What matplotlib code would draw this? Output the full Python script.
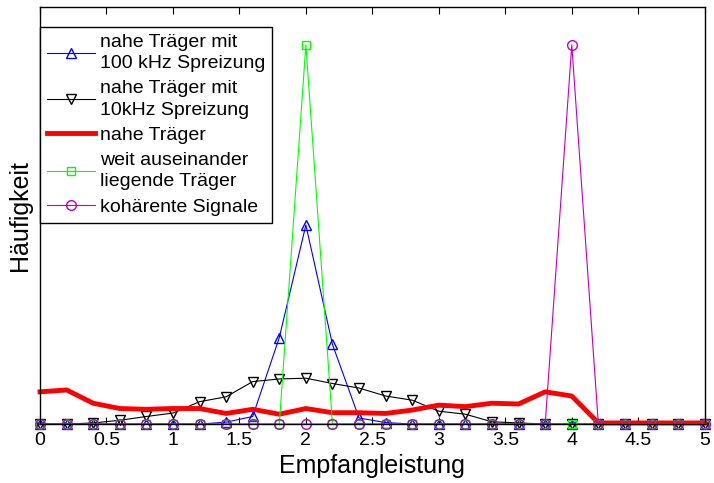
import numpy as np
import matplotlib
matplotlib.use('Agg')
import matplotlib.pyplot as plt

plt.rcParams['font.family'] = ['Liberation Sans', 'DejaVu Sans']

# x: Empfangleistung, Schritt 0.2
x = np.array([0.0, 0.2, 0.4, 0.6, 0.8, 1.0, 1.2, 1.4, 1.6, 1.8,
              2.0, 2.2, 2.4, 2.6, 2.8, 3.0, 3.2, 3.4, 3.6, 3.8,
              4.0, 4.2, 4.4, 4.6, 4.8, 5.0])

spread100 = np.array([0, 0, 0, 0, 0, 0, 0, 0.5, 2.0, 22.8,
                      52.5, 21.0, 1.6, 0.4, 0, 0, 0, 0, 0, 0,
                      0, 0, 0, 0, 0, 0])
spread10 = np.array([0, 0, 0.3, 1.0, 2.0, 2.9, 5.9, 7.2, 11.2, 11.9,
                     12.1, 10.7, 9.5, 7.4, 6.3, 3.4, 2.6, 0.6, 0.3, 0,
                     0, 0, 0, 0, 0, 0])
near = np.array([8.5, 9.0, 5.5, 4.1, 3.9, 4.1, 4.1, 2.8, 3.9, 2.6,
                 4.1, 3.0, 3.0, 2.8, 3.7, 5.0, 4.6, 5.5, 5.3, 8.5,
                 7.4, 0.3, 0.3, 0.3, 0.3, 0.3])
far = np.array([0, 0, 0, 0, 0, 0, 0, 0, 0, 0,
                100, 0, 0, 0, 0, 0, 0, 0, 0, 0,
                0, 0, 0, 0, 0, 0])
coherent = np.array([0, 0, 0, 0, 0, 0, 0, 0, 0, 0,
                     0, 0, 0, 0, 0, 0, 0, 0, 0, 0,
                     100, 0, 0, 0, 0, 0])

labels = ['nahe Träger mit\n100 kHz Spreizung',
          'nahe Träger mit\n10kHz Spreizung',
          'nahe Träger',
          'weit auseinander\nliegende Träger',
          'kohärente Signale']

fig = plt.figure(figsize=(7.14, 4.83), dpi=100)
ax = fig.add_axes([0.056, 0.122, 0.931, 0.8635])

ax.plot(x, spread100, color='b', lw=0.8, marker='^', ms=7, mfc='none', label=labels[0], clip_on=False)
ax.plot(x, spread10, color='k', lw=0.8, marker='v', ms=7, mfc='none', label=labels[1], clip_on=False)
ax.plot(x, near, color='r', lw=3.5, label=labels[2], clip_on=False)
ax.plot(x, far, color=(0, 1, 0), lw=0.8, marker='s', ms=6, mfc='none', label=labels[3], clip_on=False)
ax.plot(x, coherent, color='m', lw=0.8, marker='o', ms=7, mfc='none', label=labels[4], clip_on=False)

ax.set_xlim(0, 5)
ax.set_ylim(0, 110)
ax.set_xticks(np.arange(0, 5.01, 0.5))
ax.set_xticklabels(['0', '0.5', '1', '1.5', '2', '2.5', '3', '3.5', '4', '4.5', '5'])
ax.set_yticks([])
ax.tick_params(axis='x', direction='in', length=5, top=True, labelsize=14, pad=6)
for s in ax.spines.values():
    s.set_linewidth(1.0)

ax.set_xlabel('Empfangleistung', fontsize=18, labelpad=3)
ax.set_ylabel('Häufigkeit', fontsize=18, labelpad=6)

leg = ax.legend(loc='upper left', bbox_to_anchor=(0.0, 0.952), borderaxespad=0,
                fontsize=14, handlelength=2.5, handletextpad=0.25,
                labelspacing=0.4, fancybox=False, framealpha=1,
                edgecolor='k', borderpad=0.35)
leg.get_frame().set_linewidth(1.0)
for t in leg.get_texts():
    t.set_linespacing(1.35)

fig.savefig('out.png', dpi=100)
